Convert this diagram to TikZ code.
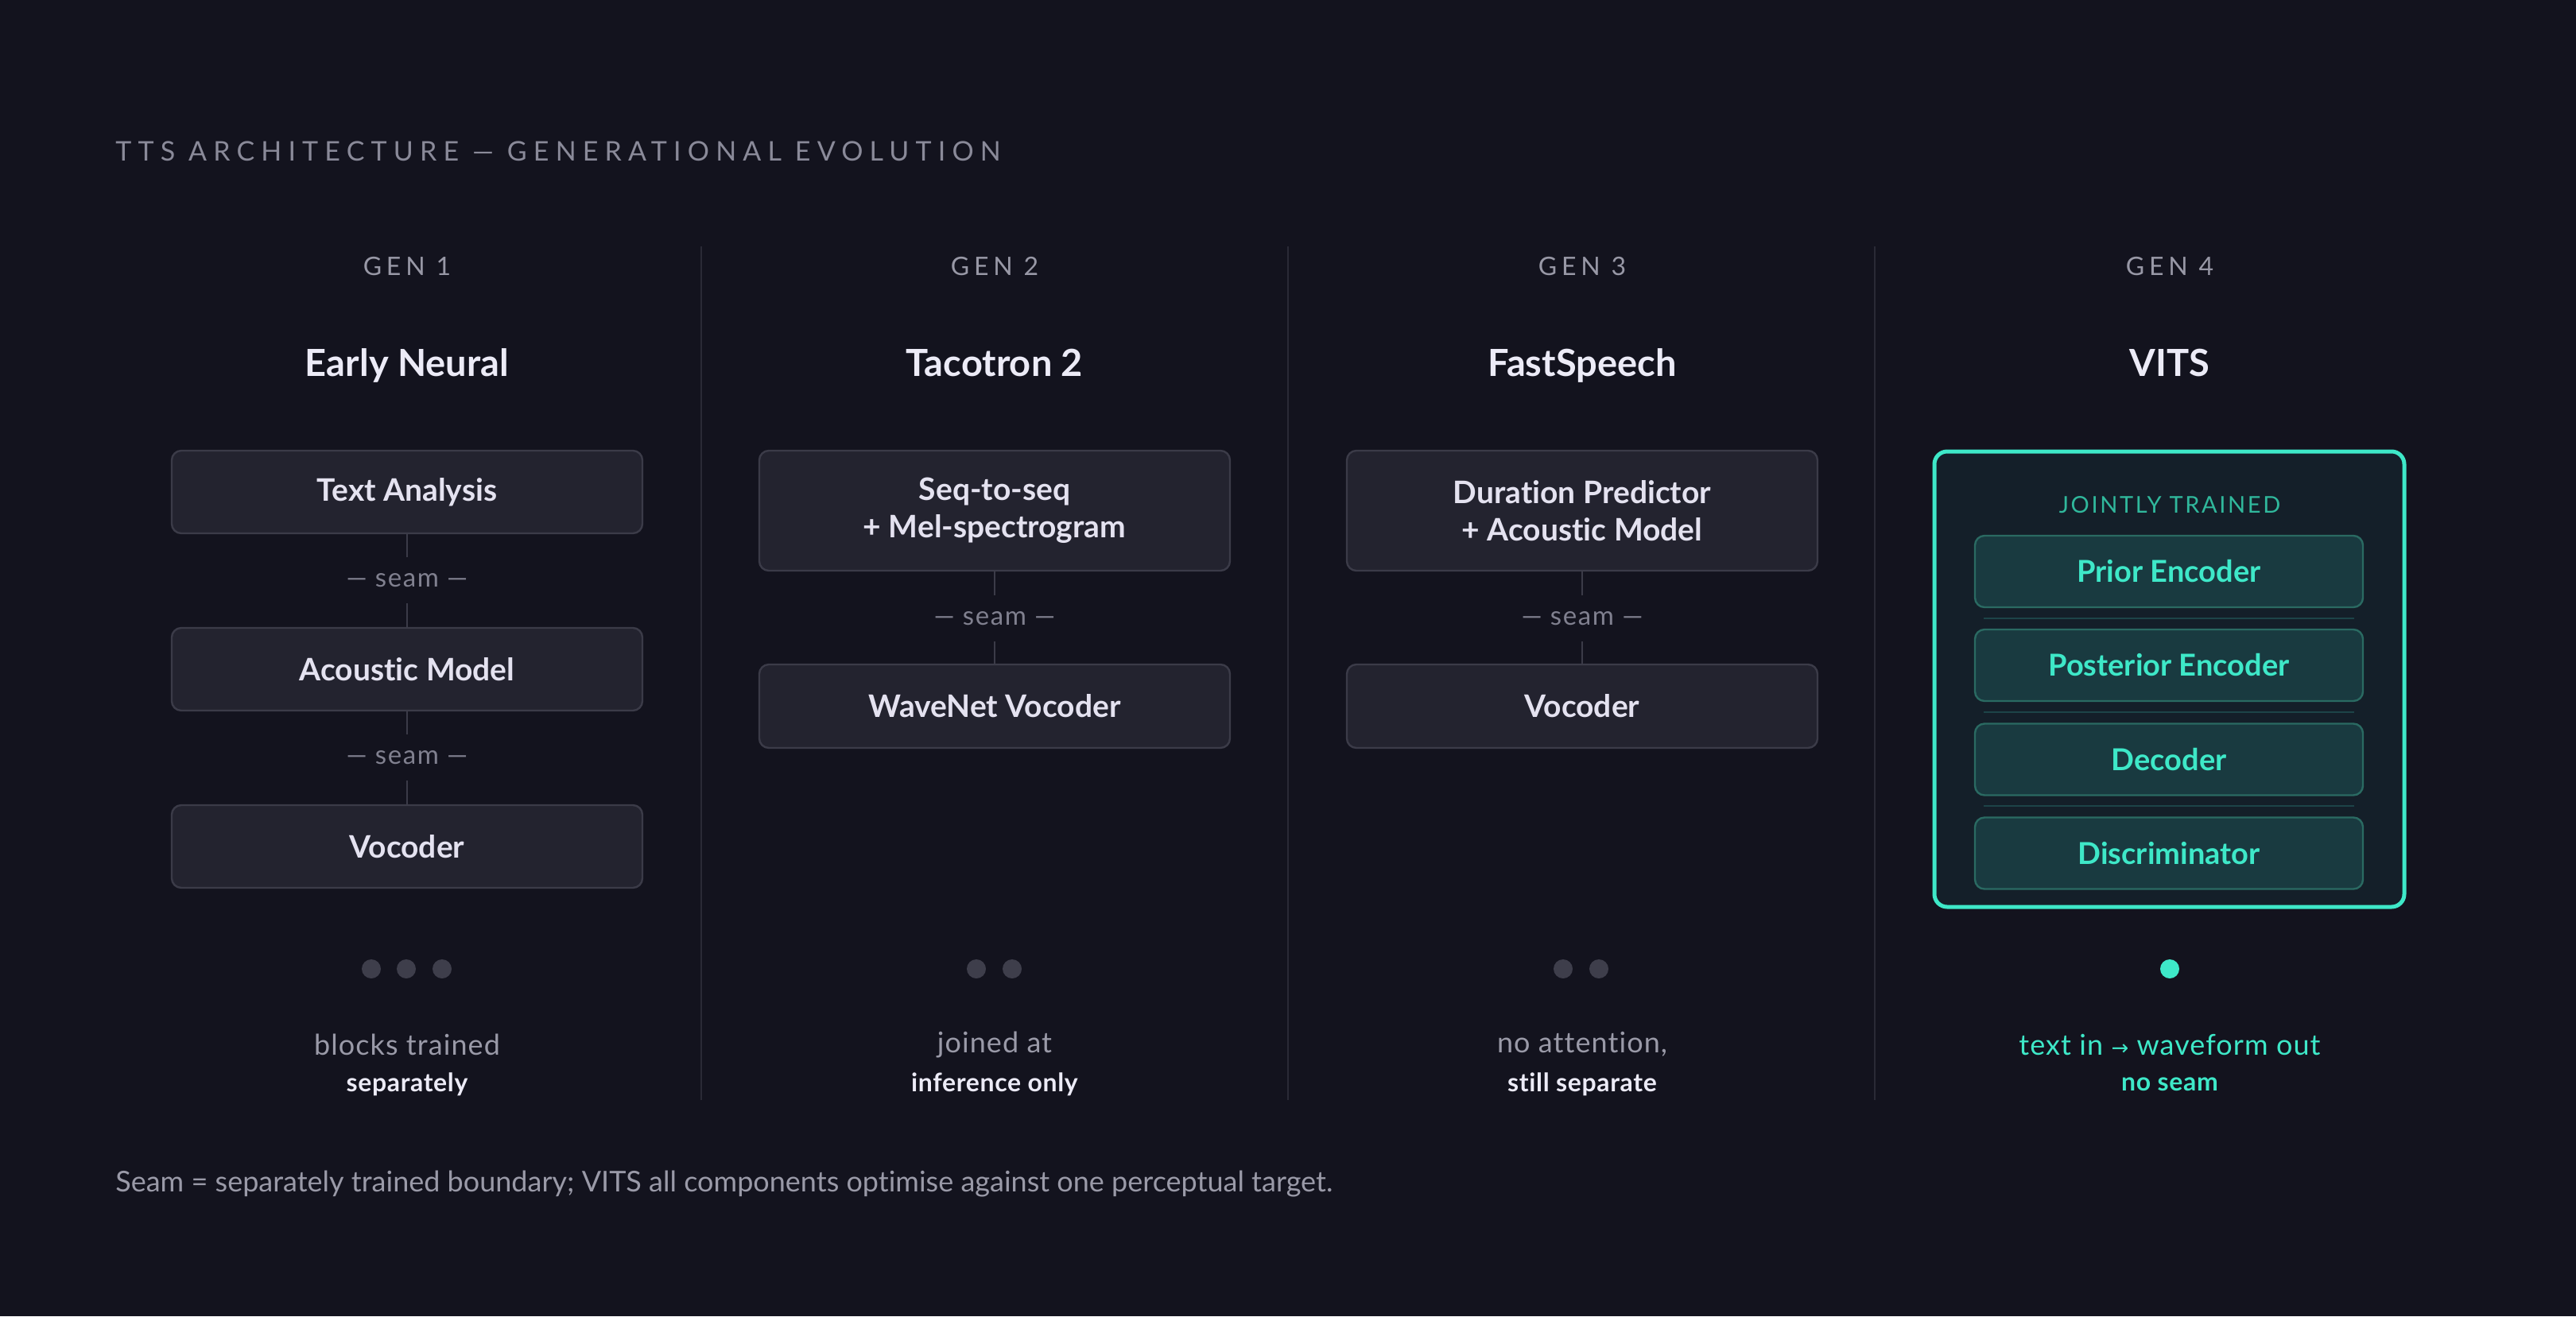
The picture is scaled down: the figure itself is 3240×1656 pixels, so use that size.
\documentclass[tikz,border=0pt]{standalone}
\usepackage{fontspec}
\setmainfont{Lato}[Ligatures=NoCommon]
\newfontfamily\symfont{DejaVu Sans}
\definecolor{bg}{HTML}{13131E}
\definecolor{boxfill}{HTML}{23232F}
\definecolor{boxline}{HTML}{3B3B48}
\definecolor{divc}{HTML}{2A2A36}
\definecolor{titlec}{HTML}{8A8A99}
\definecolor{genc}{HTML}{9898A6}
\definecolor{headc}{HTML}{ECEBF7}
\definecolor{boxtext}{HTML}{E4E2F0}
\definecolor{seamc}{HTML}{80808F}
\definecolor{dotc}{HTML}{3E3E4B}
\definecolor{subc}{HTML}{9A9AA8}
\definecolor{teal}{HTML}{3EE8C8}
\definecolor{vfill}{HTML}{141F29}
\definecolor{ifill}{HTML}{193A40}
\definecolor{iline}{HTML}{2A6A62}
\definecolor{sepc}{HTML}{1D4448}
\definecolor{jointc}{HTML}{30B89C}
\newcommand\titlefont{\fontsize{17}{20}\selectfont\addfontfeature{LetterSpace=24}}
\newcommand\genfont{\fontsize{16}{19}\selectfont\addfontfeature{LetterSpace=18}}
\newcommand\headfont{\fontsize{23.5}{28}\selectfont\bfseries}
\newcommand\boxfont{\fontsize{19.5}{23.5}\selectfont\bfseries}
\newcommand\vboxfont{\fontsize{19}{23}\selectfont\bfseries}
\newcommand\seamfont{\fontsize{16.5}{19}\selectfont\addfontfeature{LetterSpace=5}}
\newcommand\jointfont{\fontsize{14.5}{18}\selectfont\addfontfeature{LetterSpace=9}}
\newcommand\subfont{\fontsize{18}{21}\selectfont\addfontfeature{LetterSpace=3}}
\newcommand\subbfont{\fontsize{16}{19}\selectfont\bfseries\addfontfeature{LetterSpace=2}}
\newcommand\footfont{\fontsize{18}{21}\selectfont}
\begin{document}
\begin{tikzpicture}[x=0.5pt,y=-0.5pt,
  blk/.style={draw=boxline, fill=boxfill, line width=1.2pt, rounded corners=6pt,
    minimum width=296pt, text=boxtext, font=\boxfont, align=center, inner sep=0pt},
  vblk/.style={draw=iline, fill=ifill, line width=1.2pt, rounded corners=6pt,
    minimum width=244pt, minimum height=45pt, text=teal, font=\vboxfont, inner sep=0pt},
  seamlbl/.style={text=seamc, font=\seamfont, minimum height=28.5pt, inner sep=0pt},
  conn/.style={draw=boxline, line width=1pt},
  gen/.style={text=genc, font=\genfont, inner sep=0pt},
  head/.style={text=headc, font=\headfont, inner sep=0pt},
  dot/.style={circle, fill=dotc, minimum size=12pt, inner sep=0pt},
  sub/.style={text=subc, font=\subfont, inner sep=0pt},
  subb/.style={text=headc, font=\subbfont, inner sep=0pt},
  divline/.style={draw=divc, line width=1pt},
  sepline/.style={draw=sepc, line width=1.2pt}]
\fill[bg] (0,0) rectangle (3240,1656);
\useasboundingbox (0,0) rectangle (3240,1656);

% title
\node[anchor=west, text=titlec, font=\titlefont, inner sep=0pt] (title) at (145,190) {TTS ARCHITECTURE — GENERATIONAL EVOLUTION};

% dividers
\coordinate (v1t) at (882,310); \coordinate (v1b) at (882,1384);
\coordinate (v2t) at (1620,310); \coordinate (v2b) at (1620,1384);
\coordinate (v3t) at (2358,310); \coordinate (v3b) at (2358,1384);
\draw[divline] (v1t) -- (v1b);
\draw[divline] (v2t) -- (v2b);
\draw[divline] (v3t) -- (v3b);

% headers
\node[gen] (g1) at (512,335) {GEN 1};
\node[gen] (g2) at (1251,335) {GEN 2};
\node[gen] (g3) at (1990,335) {GEN 3};
\node[gen] (g4) at (2729,335) {GEN 4};
\node[head, anchor=base] (h1) at (512,473) {Early Neural};
\node[head, anchor=base] (h2) at (1251,473) {Tacotron 2};
\node[head, anchor=base] (h3) at (1990,473) {FastSpeech};
\node[head, anchor=base] (h4) at (2729,473) {VITS};

% Gen 1
\node[blk, minimum height=52pt] (a1) at (512,619) {Text Analysis};
\node[seamlbl] (s11) at (512,730) {— seam —};
\node[blk, minimum height=52pt] (a2) at (512,842) {Acoustic Model};
\node[seamlbl] (s12) at (512,953) {— seam —};
\node[blk, minimum height=52pt] (a3) at (512,1065) {Vocoder};
\draw[conn] (a1.south) -- (s11.north);
\draw[conn] (s11.south) -- (a2.north);
\draw[conn] (a2.south) -- (s12.north);
\draw[conn] (s12.south) -- (a3.north);

% Gen 2
\node[blk, minimum height=75.5pt] (b1) at (1251,642.5) {Seq-to-seq\\+ Mel-spectrogram};
\node[seamlbl] (s21) at (1251,778) {— seam —};
\node[blk, minimum height=52.5pt] (b2) at (1251,888.5) {WaveNet Vocoder};
\draw[conn] (b1.south) -- (s21.north);
\draw[conn] (s21.south) -- (b2.north);

% Gen 3
\node[blk, minimum height=75.5pt] (c1) at (1990,642.5) {Duration Predictor\\+ Acoustic Model};
\node[seamlbl] (s31) at (1990,778) {— seam —};
\node[blk, minimum height=52.5pt] (c2) at (1990,888.5) {Vocoder};
\draw[conn] (c1.south) -- (s31.north);
\draw[conn] (s31.south) -- (c2.north);

% Gen 4
\node[draw=teal, fill=vfill, line width=2.5pt, rounded corners=8pt,
  minimum width=295.5pt, minimum height=286.5pt, inner sep=0pt] (vits) at (2728.5,854.5) {};
\node[text=jointc, font=\jointfont, inner sep=0pt] (joint) at (2729,635) {JOINTLY TRAINED};
\node[vblk] (d1) at (2728,719) {Prior Encoder};
\node[vblk] (d2) at (2728,837) {Posterior Encoder};
\node[vblk] (d3) at (2728,955.5) {Decoder};
\node[vblk] (d4) at (2728,1073.5) {Discriminator};
\coordinate (e1l) at (2495,778); \coordinate (e1r) at (2961,778);
\coordinate (e2l) at (2495,896); \coordinate (e2r) at (2961,896);
\coordinate (e3l) at (2495,1014); \coordinate (e3r) at (2961,1014);
\draw[sepline] (e1l) -- (e1r);
\draw[sepline] (e2l) -- (e2r);
\draw[sepline] (e3l) -- (e3r);

% dots
\node[dot] (p11) at (467,1219) {};
\node[dot] (p12) at (511,1219) {};
\node[dot] (p13) at (556,1219) {};
\node[dot] (p21) at (1228,1219) {};
\node[dot] (p22) at (1273,1219) {};
\node[dot] (p31) at (1966,1219) {};
\node[dot] (p32) at (2011,1219) {};
\node[dot, fill=teal] (p41) at (2729,1219) {};

% bottom captions
\node[sub] (t11) at (512,1314) {blocks trained};
\node[subb] (t12) at (512,1364) {separately};
\node[sub] (t21) at (1251,1314) {joined at};
\node[subb] (t22) at (1251,1364) {inference only};
\node[sub] (t31) at (1990,1314) {no attention,};
\node[subb] (t32) at (1990,1364) {still separate};
\node[sub, text=teal] (t41) at (2729,1314) {text in {\symfont\fontsize{13}{15}\selectfont →} waveform out};
\node[subb, text=teal] (t42) at (2729,1364) {no seam};

% footer
\node[anchor=west, text=subc, font=\footfont, inner sep=0pt] (foot) at (145,1490) {Seam = separately trained boundary; VITS all components optimise against one perceptual target.};
\end{tikzpicture}
\end{document}
